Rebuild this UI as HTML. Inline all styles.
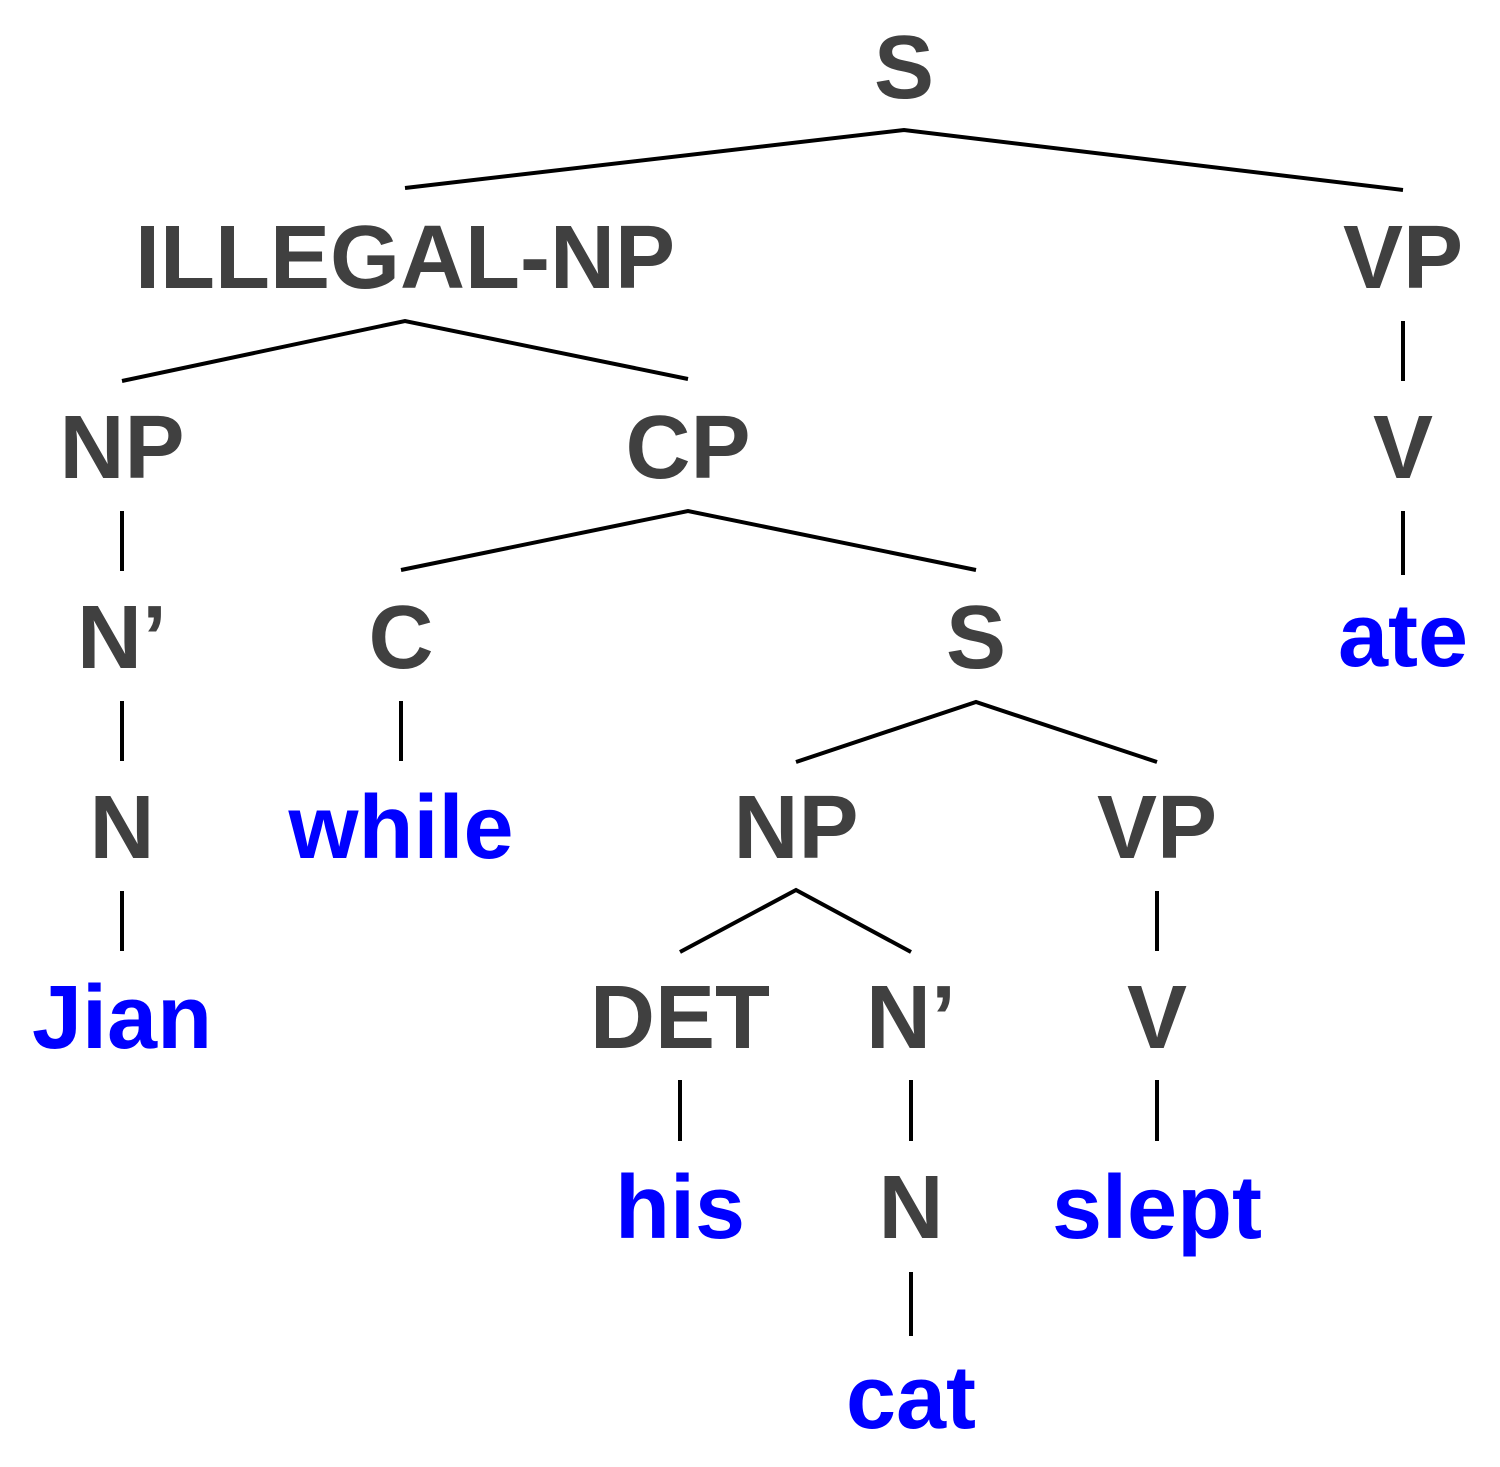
<!DOCTYPE html>
<html><head><meta charset="utf-8"><style>html,body{margin:0;padding:0;background:#fff}</style></head>
<body>
<svg width="1500" height="1462" viewBox="0 0 1500 1462" xmlns="http://www.w3.org/2000/svg">
<g font-family="Liberation Sans, Arial, sans-serif" font-weight="bold" font-size="90" text-anchor="middle" fill="#404040">
<text x="904" y="98">S</text>
<text x="405" y="288">ILLEGAL-NP</text>
<text x="1403" y="288">VP</text>
<text x="122" y="478">NP</text>
<text x="688" y="478">CP</text>
<text x="1403" y="478">V</text>
<text x="122" y="668">N’</text>
<text x="401" y="668">C</text>
<text x="976" y="668">S</text>
<text x="122" y="858">N</text>
<text x="796" y="858">NP</text>
<text x="1157" y="858">VP</text>
<text x="680" y="1048">DET</text>
<text x="911" y="1048">N’</text>
<text x="1157" y="1048">V</text>
<text x="911" y="1238">N</text>
<g fill="#0000ff">
<text x="1403" y="666">ate</text>
<text x="401" y="858">while</text>
<text x="122" y="1048">Jian</text>
<text x="680" y="1238">his</text>
<text x="1157" y="1238">slept</text>
<text x="911" y="1428">cat</text>
</g>
</g>
<g stroke="#000" stroke-width="4" fill="none">
<polyline points="405,188 904,130 1403,190"/>
<polyline points="122,381 405,321 688,379"/>
<line x1="1403" y1="321" x2="1403" y2="381"/>
<line x1="122" y1="511" x2="122" y2="571"/>
<polyline points="401,570 688,511 976,570"/>
<line x1="1403" y1="511" x2="1403" y2="575"/>
<line x1="122" y1="701" x2="122" y2="761"/>
<line x1="401" y1="701" x2="401" y2="761"/>
<polyline points="796,762 976,702 1157,762"/>
<line x1="122" y1="891" x2="122" y2="951"/>
<polyline points="680,952 796,890 911,952"/>
<line x1="1157" y1="891" x2="1157" y2="951"/>
<line x1="680" y1="1080" x2="680" y2="1141"/>
<line x1="911" y1="1080" x2="911" y2="1141"/>
<line x1="1157" y1="1080" x2="1157" y2="1141"/>
<line x1="911" y1="1272" x2="911" y2="1336"/>
</g>
</svg>
</body></html>
